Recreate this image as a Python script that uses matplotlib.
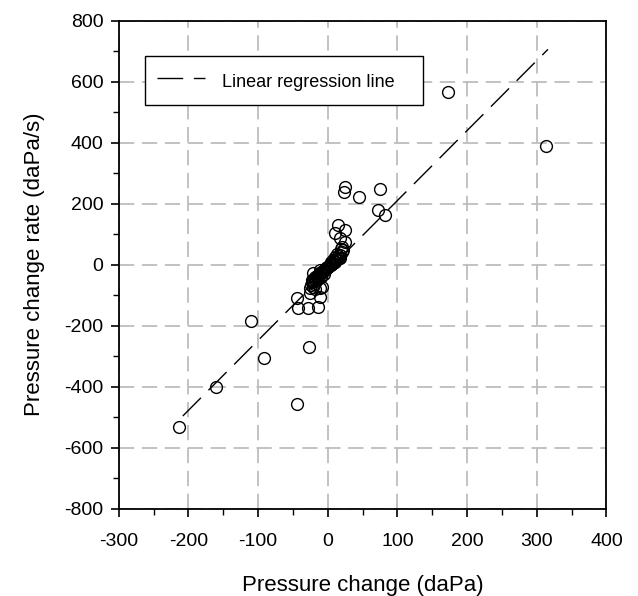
import numpy as np
import matplotlib
matplotlib.use('Agg')
import matplotlib.pyplot as plt

plt.rcParams['font.family'] = ['Liberation Sans', 'DejaVu Sans']
plt.rcParams['lines.scale_dashes'] = False
plt.rcParams['axes.unicode_minus'] = False

# pressure change (daPa) and pressure change rate (daPa/s)
pchange = [24.8, 23.4, 45.3, 75, 72.6, 82, 14.3, 24.8, 10.5, 17.6, 24.8, 20,
           -23, -20.7, -8.6, -25.4, -11, -44.5, -42, -28, -13.5,
           -110, -26.4, -91.4, -160, -44.5, -213, 172, 313,
           17.6, 8, -1.4, -11, -20.7, -11,
           22, 20, 18, 15, 16, 13, 12, 10, 9, 8, 6, 5, 4, 2, 0, -1, -3, -4,
           -6, -7, -8, -10, -12, -13, -15, -16, -18, -19, -21, -22, -20, -17,
           -14, -10, -24, -25, -18, -6, 3, 7, 11, 14, 19]
prate = [256, 239, 223, 248, 179, 163, 130, 114, 103, 87, 75, 59,
         -50, -72, -72, -94, -105, -110, -143, -143, -138,
         -184, -269, -305, -400, -458, -531, 565, 389,
         21, 5, -7, -17, -28, -77,
         48, 40, 32, 28, 22, 18, 14, 10, 12, 6, 3, 8, 0, -3, -6, -10, -12, -16,
         -18, -22, -26, -24, -30, -34, -36, -40, -42, -46, -52, -58, -62, -55,
         -48, -40, -65, -75, -80, -30, -2, 15, 25, 35, 52]

# regression line
reg_slope = 2.294
reg_icept = -19.0
reg_x = [-208, 316]

fig = plt.figure(figsize=(6.38, 5.96), dpi=100)
ax = fig.add_axes([0.186, 0.1465, 0.7646, 0.8188])

ax.plot(pchange, prate, 'o', mfc='none', mec='black', mew=1.0, ms=8.5,
        zorder=3)
rx = np.array(reg_x, dtype=float)
ax.plot(rx, reg_slope * rx + reg_icept, color='black', lw=1.0,
        dashes=(18.5, 7.7), label='Linear regression line', zorder=2)

ax.set_xlim(-300, 400)
ax.set_ylim(-800, 800)
ax.set_xticks(np.arange(-300, 401, 100))
ax.set_yticks(np.arange(-800, 801, 200))
ax.set_xticks(np.arange(-250, 400, 100), minor=True)
ax.set_yticks(np.arange(-700, 800, 200), minor=True)
ax.tick_params(which='major', direction='out', length=6, width=1.2,
               labelsize=14)
ax.tick_params(axis='x', which='major', pad=11.5)
ax.tick_params(axis='y', which='major', pad=5)
ax.tick_params(which='minor', direction='out', length=4, width=1.0)
for s in ax.spines.values():
    s.set_linewidth(1.3)

ax.grid(True, which='major', color='#bdbdbd', lw=1.3, dashes=(11, 5.5))
ax.set_axisbelow(True)

ax.set_xlabel('Pressure change (daPa)', fontsize=16, labelpad=18)
ax.set_ylabel('Pressure change rate (daPa/s)', fontsize=16, labelpad=14)

leg = ax.legend(loc='upper left', bbox_to_anchor=(0.053, 0.8206, 0.57, 0.1064),
                mode='expand', borderaxespad=0, fontsize=13, borderpad=0.67,
                handlelength=2.67, handleheight=1.75, handletextpad=0.94,
                fancybox=False)
leg.get_frame().set_edgecolor('black')
leg.get_frame().set_linewidth(1.0)
leg.get_frame().set_alpha(1)

fig.savefig('out.png', dpi=100)
